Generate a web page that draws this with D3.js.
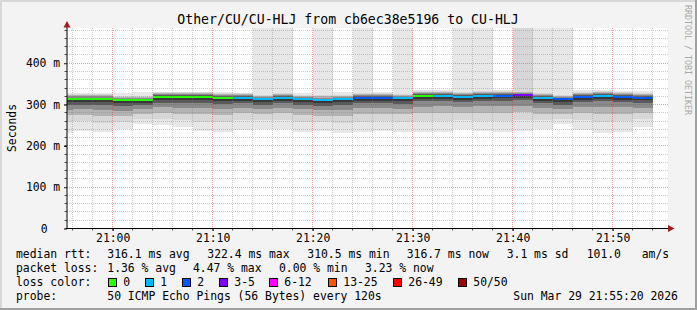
<!DOCTYPE html>
<html><head><meta charset="utf-8">
<script src="https://cdn.jsdelivr.net/npm/d3@7"></script>
<style>
html,body{margin:0;padding:0;background:#f3f3f3;}
svg{display:block;}
text{font-family:"DejaVu Sans Mono",monospace;fill:#000;}
</style></head><body>
<svg id="c" width="697" height="310"></svg>
<script>
// ---------- data ----------
const titleText = "Other/CU/CU-HLJ from cb6ec38e5196 to CU-HLJ";
const intervalStarts = ["20:54","20:56","20:58","21:00","21:02","21:04","21:06","21:08","21:10","21:12","21:14","21:16","21:18","21:20","21:22","21:24","21:26","21:28","21:30","21:32","21:34","21:36","21:38","21:40","21:42","21:44","21:46","21:48","21:50","21:52"];
const medianRtt = [313.5,313.5,313.5,310.5,310.5,318.5,318.5,318.5,316.4,316,313,316.6,313,311,313,316.4,316.4,315.6,321,321,318.4,321,321.8,322.4,316.4,313,318.4,321,318.4,316.7];
const lossCount = [0,0,0,0,0,0,0,0,0,1,1,1,1,1,1,2,2,1,0,1,1,1,2,3,1,2,2,1,2,2];
const rttMin = [232,237,234,240,253,250,245,237,234,238,240,242,234,237,232,234,237,234,234,234,242,237,234,237,240,253,238,232,234,246];
const rttP10 = [258,260,256,258,266,266,262,258,257,262,262,263,258,257,255,258,260,258,260,260,263,261,260,262,262,266,262,258,259,264];
const rttP20 = [274,275,272,272,278,280,278,276,274,279,277,279,274,272,272,276,277,276,279,280,280,280,280,281,278,278,279,278,278,279];
const rttP30 = [287,288,286,285,289,293,292,291,289,292,290,292,288,286,287,291,291,290,295,296,294,296,296,297,292,290,294,295,293,292];
const rttP40 = [299,299,298,296,298,304,304,303,302,303,300,303,300,297,299,303,303,302,308,308,306,308,309,310,303,300,305,308,305,304];
const rttP45 = [306,306,305,303,303,311,311,310,309,309,306,309,306,304,306,309,309,308,314,314,312,314,315,316,309,306,311,314,311,310];
const rttP55 = [315,315,315,312,312,320,320,320,317.9,317.5,314.5,318.1,314.5,312.5,314.5,317.9,317.9,317.1,322.5,322.5,319.9,322.5,323.3,323.9,317.9,314.5,319.9,322.5,319.9,318.2];
const rttP60 = [317,317,317,314,314,322,322,322,319.9,319.5,316.5,320.1,316.5,314.5,316.5,319.9,319.9,319.1,324.5,324.5,321.9,324.5,325.3,325.9,319.9,316.5,321.9,324.5,321.9,320.2];
const rttP70 = [319.5,319.5,319.5,316.5,316.5,324.5,324.5,324.5,322.4,322,319,322.6,319,317,319,322.4,322.4,321.6,327,327,324.4,327,327.8,328.4,322.4,319,324.4,327,324.4,322.7];
const rttP80 = [322,322,322,319,319,327,327,327,324.9,324.5,321.5,325.1,321.5,319.5,321.5,324.9,324.9,324.1,329.5,329.5,326.9,329.5,330.3,330.9,324.9,321.5,326.9,329.5,326.9,325.2];
const rttP90 = [324.5,324.5,324.5,321.5,321.5,329.5,329.5,329.5,327.4,327,324,327.6,324,322,324,327.4,327.4,326.6,332,332,329.4,332,332.8,520,327.4,324,329.4,332,329.4,327.7];
const rttMax = [328,328,328,327,331,331.5,331.5,331.5,330,329,520,520,328,520,330,520,330,520,334,334,520,520,335,520,520,520,334,334,332,332];

const yTicks = [0,100,200,300,400];
const yTickLabels = ["0","100 m","200 m","300 m","400 m"];
const xTickTimes = ["21:00","21:10","21:20","21:30","21:40","21:50"];
const xTickLabels = ["21:00","21:10","21:20","21:30","21:40","21:50"];
const yAxisTitle = "Seconds";

const lossLegendLabels = ["0","1","2","3-5","6-12","13-25","26-49","50/50"];
const lossLegendColors = ["#26ff00","#00b8ff","#0059ff","#7e00ff","#ff00ff","#ff5500","#ff0000","#a10000"];
const lossLegendMinCount = [0,1,2,3,6,13,26,50];

const medianStats = ["316.1 ms avg","322.4 ms max","310.5 ms min","316.7 ms now","3.1 ms sd","101.0","am/s"];
const lossStats = ["1.36 % avg","4.47 % max","0.00 % min","3.23 % now"];
const probeText = "50 ICMP Echo Pings (56 Bytes) every 120s";
const dateText = "Sun Mar 29 21:55:20 2026";
const watermark = "RRDTOOL / TOBI OETIKER";

// ---------- layout ----------
const svg = d3.select("#c");
const P = {left:67, right:668, top:28, bottom:228};
const parseT = d3.timeParse("%H:%M:%S");
const tm = s => parseT(s.length === 5 ? s + ":00" : s);
const x = d3.scaleTime().domain([tm("20:55:20"), tm("21:55:20")]).range([66, 666]);
const y = d3.scaleLinear().domain([0, 484]).range([228.5, 28.5]);
const px = v => Math.floor(v) + 0.5;

// background and 3D border
svg.append("rect").attr("width",697).attr("height",310).attr("fill","#f3f3f3");
svg.append("rect").attr("x",0).attr("y",0).attr("width",697).attr("height",2).attr("fill","#d8d8d8");
svg.append("rect").attr("x",0).attr("y",0).attr("width",2).attr("height",310).attr("fill","#d8d8d8");
svg.append("rect").attr("x",0).attr("y",308).attr("width",697).attr("height",2).attr("fill","#a0a0a0");
svg.append("rect").attr("x",695).attr("y",0).attr("width",2).attr("height",310).attr("fill","#a0a0a0");

// canvas
svg.append("rect").attr("x",P.left).attr("y",P.top).attr("width",P.right-P.left).attr("height",P.bottom-P.top).attr("fill","#fff");

svg.append("clipPath").attr("id","clip").append("rect")
  .attr("x",P.left).attr("y",P.top).attr("width",P.right-P.left).attr("height",P.bottom-P.top);
const plot = svg.append("g").attr("clip-path","url(#clip)");

// smoke
const levels = [
  {lo:rttMin, hi:rttMax, color:"#e7e7e7"},
  {lo:rttP10, hi:rttP90, color:"#d7d7d7"},
  {lo:rttP20, hi:rttP80, color:"#b3b3b3"},
  {lo:rttP30, hi:rttP70, color:"#8a8a8a"},
  {lo:rttP40, hi:rttP60, color:"#5a5a5a"},
  {lo:rttP45, hi:rttP55, color:"#383838"}
];
const starts = intervalStarts.map(tm);
const ends = starts.map(d => d3.timeMinute.offset(d, 2));
levels.forEach(L => {
  plot.append("g").selectAll("rect").data(starts).join("rect")
    .attr("x", (d,i) => Math.round(x(d)))
    .attr("width", (d,i) => Math.round(x(ends[i])) - Math.round(x(d)))
    .attr("y", (d,i) => Math.round(y(L.hi[i])))
    .attr("height", (d,i) => Math.round(y(L.lo[i])) - Math.round(y(L.hi[i])))
    .attr("fill", L.color)
    .attr("shape-rendering","crispEdges");
});

// grid (drawn over smoke)
const grid = svg.append("g").attr("clip-path","url(#clip)");
const minorX = x.ticks(d3.timeMinute.every(2));
const majorX = x.ticks(d3.timeMinute.every(10));
const minorY = d3.range(0, 481, 20);
const minorCol = "rgba(130,130,130,0.42)";
const majorCol = "rgba(235,30,30,0.42)";
grid.selectAll("line.mx").data(minorX.filter(d => d.getMinutes() % 10 !== 0)).join("line")
  .attr("x1", d => px(x(d))).attr("x2", d => px(x(d)))
  .attr("y1", P.top).attr("y2", P.bottom)
  .attr("stroke", minorCol).attr("stroke-dasharray","1,1");
grid.selectAll("line.my").data(minorY.filter(v => v % 100 !== 0)).join("line")
  .attr("y1", d => px(y(d))).attr("y2", d => px(y(d)))
  .attr("x1", P.left).attr("x2", P.right)
  .attr("stroke", minorCol).attr("stroke-dasharray","1,1");
grid.selectAll("line.Mx").data(majorX).join("line")
  .attr("x1", d => px(x(d))).attr("x2", d => px(x(d)))
  .attr("y1", P.top).attr("y2", P.bottom)
  .attr("stroke", majorCol).attr("stroke-dasharray","1,1");
grid.selectAll("line.My").data(yTicks.filter(v => v > 0)).join("line")
  .attr("y1", d => px(y(d))).attr("y2", d => px(y(d)))
  .attr("x1", P.left).attr("x2", P.right)
  .attr("stroke", majorCol).attr("stroke-dasharray","1,1");

// median line coloured by loss
const lossColor = c => {
  let idx = 0;
  lossLegendMinCount.forEach((m,i) => { if (c >= m) idx = i; });
  return lossLegendColors[idx];
};
plot.append("g").selectAll("line").data(starts).join("line")
  .attr("x1", d => Math.round(x(d)))
  .attr("x2", (d,i) => Math.round(x(ends[i])))
  .attr("y1", (d,i) => Math.round(y(medianRtt[i])))
  .attr("y2", (d,i) => Math.round(y(medianRtt[i])))
  .attr("stroke", (d,i) => lossColor(lossCount[i]))
  .attr("stroke-width", 2)
  .attr("shape-rendering","crispEdges");

// axes
const xAxisG = svg.append("g").attr("transform","translate(0,228)");
xAxisG.call(d3.axisBottom(x).tickValues(xTickTimes.map(tm))
    .tickFormat((d,i) => xTickLabels[i]).tickSizeInner(3).tickSizeOuter(0))
  .call(g => g.select(".domain").remove())
  .call(g => g.selectAll(".tick line").attr("stroke","#000"))
  .call(g => g.selectAll("text").attr("y", 13.7).attr("dy", null)
      .attr("font-family","DejaVu Sans Mono").attr("font-size","11.4px").attr("fill","#000"));
svg.append("g").selectAll("line").data(minorX).join("line")
  .attr("x1", d => px(x(d))).attr("x2", d => px(x(d)))
  .attr("y1", 228).attr("y2", 230.5).attr("stroke","#555");

const yAxisG = svg.append("g").attr("transform","translate(67,0)");
yAxisG.call(d3.axisLeft(y).tickValues(yTicks)
    .tickFormat((d,i) => yTickLabels[i]).tickSizeInner(3).tickSizeOuter(0))
  .call(g => g.select(".domain").remove())
  .call(g => g.selectAll(".tick line").attr("stroke","#000"))
  .call(g => g.selectAll("text")
      .attr("x", (d,i) => i === 0 ? -19.5 : -6.8)
      .attr("font-family","DejaVu Sans Mono").attr("font-size","11.4px").attr("fill","#000"));
svg.append("g").selectAll("line").data(minorY).join("line")
  .attr("y1", d => px(y(d))).attr("y2", d => px(y(d)))
  .attr("x1", 64.5).attr("x2", 67).attr("stroke","#555");

// axis lines + arrows
svg.append("line").attr("x1",67).attr("x2",67).attr("y1",228.5).attr("y2",26).attr("stroke","#000");
svg.append("line").attr("x1",66).attr("x2",670).attr("y1",228.5).attr("y2",228.5).attr("stroke","#000");
svg.append("path").attr("d","M63.5,27.5 L67,21 L70.5,27.5 Z").attr("fill","#a41c1c");
svg.append("path").attr("d","M668,225 L674.5,228.5 L668,232 Z").attr("fill","#a41c1c");

// title
svg.append("text").attr("x",348).attr("y",24).attr("text-anchor","middle")
  .attr("font-size","13.2px").text(titleText);

// y axis title
svg.append("text").attr("transform","translate(15.5,128) rotate(-90)")
  .attr("text-anchor","middle").attr("font-size","11.4px").text(yAxisTitle);

// watermark
svg.append("text").attr("transform","translate(684.5,5) rotate(90)")
  .attr("font-size","8.3px").style("fill","#a8a8a8").text(watermark);

// legend
const lg = svg.append("g").attr("font-size","11.4px");
const row1 = 258.3, row2 = 272.3, row3 = 286.3, row4 = 300.3;
lg.append("text").attr("x",16).attr("y",row1).text("median rtt:");
const medX = [107.3, 207.3, 307.3, 406.7, 506.7, 586.7, 641.7];
medianStats.forEach((s,i) => lg.append("text").attr("x",medX[i]).attr("y",row1).text(s));
lg.append("text").attr("x",16).attr("y",row2).text("packet loss:");
const lossX = [107.3, 193, 279, 365];
lossStats.forEach((s,i) => lg.append("text").attr("x",lossX[i]).attr("y",row2).text(s));
lg.append("text").attr("x",16).attr("y",row3).text("loss color:");
const boxX = [108.5, 145.5, 182.5, 219.5, 269.5, 328.5, 393.5, 458.5];
lossLegendLabels.forEach((s,i) => {
  lg.append("rect").attr("x",boxX[i]).attr("y",278.5).attr("width",8).attr("height",8)
    .attr("fill",lossLegendColors[i]).attr("stroke","#000").attr("stroke-width",1);
  lg.append("text").attr("x",boxX[i]+14.8).attr("y",row3).text(s);
});
lg.append("text").attr("x",16).attr("y",row4).text("probe:");
lg.append("text").attr("x",107.3).attr("y",row4).text(probeText);
lg.append("text").attr("x",513.3).attr("y",row4).text(dateText);
</script>
</body></html>
